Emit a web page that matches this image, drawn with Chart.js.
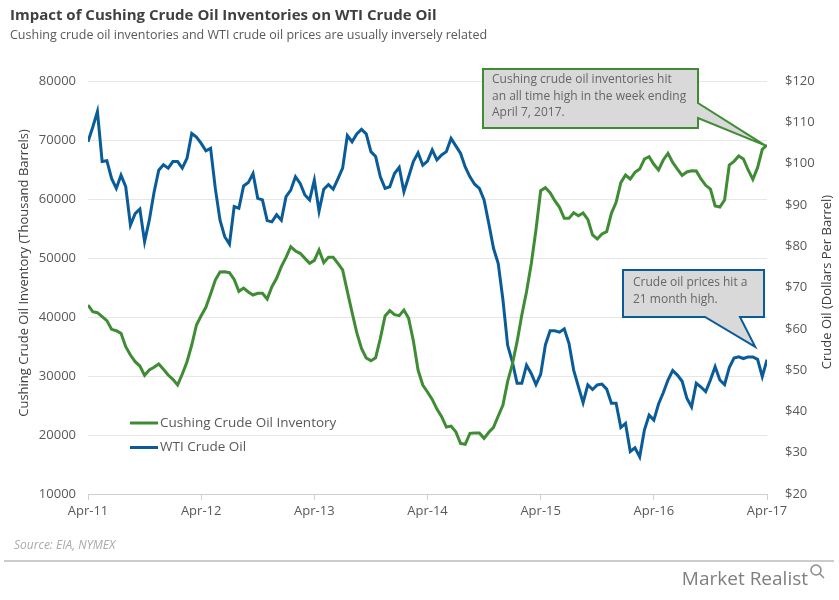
<!DOCTYPE html>
<html>
<head>
<meta charset="utf-8">
<title>Impact of Cushing Crude Oil Inventories on WTI Crude Oil</title>
<script src="https://cdn.jsdelivr.net/npm/chart.js@4.4.0/dist/chart.umd.min.js"></script>
<style>
    body { margin: 0; background: #fff; }
    #wrap { width: 839px; height: 600px; position: relative; }
</style>
</head>
<body>
<div id="wrap"><canvas id="oilChart"></canvas></div>
<script>
// Semi-monthly readings, Apr-2011 to Apr-2017 (index 0 = Apr-11, 24 = Apr-12, ...)
const xTickLabels = ['Apr-11', 'Apr-12', 'Apr-13', 'Apr-14', 'Apr-15', 'Apr-16', 'Apr-17'];

// Cushing crude oil inventory (thousand barrels)
const cushingInventory = [
    42030, 40900, 40730, 40050, 39380, 37910, 37680, 37230, 34970, 33560,
    32430, 31690, 30110, 31010, 31470, 32030, 31130, 30170, 29430, 28470,
    30340, 32430, 35250, 38640, 40220, 41640, 43900, 46270, 47630, 47680,
    47510, 46380, 44350, 44910, 44240, 43730, 44010, 44010, 43050, 45140,
    46550, 48530, 50110, 51920, 51190, 50790, 49940, 49100, 49600, 51360,
    49210, 50110, 50110, 49100, 47970, 44350, 40790, 37340, 34690, 33050,
    32600, 33100, 36380, 40170, 41070, 40390, 40220, 41180, 39770, 35990,
    31010, 28470, 27290, 26040, 24400, 23100, 21350, 21520, 20560, 18580,
    18420, 20280, 20340, 20340, 19430, 20450, 21300, 23220, 25080, 29090,
    32030, 35820, 40340, 44290, 48980, 54750, 61400, 61920, 61070, 59720,
    58590, 56720, 56720, 57680, 57170, 57630, 56550, 53900, 53220, 54070,
    54460, 57570, 59430, 62770, 64070, 63390, 64520, 65080, 66780, 67180,
    65880, 64920, 66610, 67740, 66210, 65080, 64010, 64580, 64800, 64750,
    63390, 62320, 61690, 58810, 58640, 59830, 65760, 66380, 67290, 66780,
    64920, 63330, 65310, 68420, 69150
];

// WTI crude oil price (dollars per barrel)
const wtiPrice = [
    105.3, 108.8, 112.6, 100.5, 100.7, 96.4, 94.0, 97.2, 94.4, 85.1,
    87.9, 89.0, 81.1, 86.3, 93.0, 98.4, 99.7, 98.9, 100.5, 100.5,
    98.9, 101.3, 107.3, 106.4, 104.9, 103.1, 103.7, 94.0, 86.3, 82.3,
    80.5, 89.6, 89.2, 94.6, 95.4, 97.6, 91.6, 91.2, 86.2, 85.9,
    87.6, 86.3, 92.0, 93.6, 96.8, 95.2, 92.4, 91.2, 96.0, 88.5,
    93.8, 94.9, 93.8, 96.3, 98.9, 106.8, 105.3, 107.2, 108.3, 107.2,
    102.9, 101.7, 96.8, 94.0, 94.4, 97.6, 99.1, 93.2, 96.8, 100.5,
    102.6, 99.6, 100.6, 103.3, 100.9, 102.1, 102.9, 106.1, 104.3, 102.5,
    99.2, 96.8, 95.0, 94.0, 91.2, 85.5, 79.5, 75.8, 67.0, 56.0,
    52.0, 46.8, 46.8, 51.2, 49.2, 46.5, 49.0, 56.1, 59.5, 59.5,
    59.2, 60.0, 56.5, 50.0, 46.0, 42.1, 46.4, 45.3, 46.4, 46.6,
    45.4, 42.0, 42.0, 36.1, 37.1, 30.3, 31.2, 29.0, 35.5, 39.1,
    37.9, 41.8, 44.5, 47.6, 49.9, 48.8, 47.3, 43.2, 41.1, 46.8,
    45.9, 44.8, 47.6, 50.8, 47.6, 46.5, 50.6, 52.9, 53.2, 52.8,
    53.2, 53.2, 52.6, 48.4, 52.5
];

const GREEN = '#3f8c35';
const BLUE = '#0a5c99';
const TEXT = '#595959';

Chart.defaults.font.family = "'Open Sans', sans-serif";

function toPoints(values) {
    return values.map((v, i) => ({ x: i, y: v }));
}

// draws a grey callout box with a pointer
function callout(ctx, pts, color, lines, tx, ty) {
    ctx.save();
    ctx.beginPath();
    ctx.moveTo(pts[0][0], pts[0][1]);
    for (let i = 1; i < pts.length; i++) ctx.lineTo(pts[i][0], pts[i][1]);
    ctx.closePath();
    ctx.fillStyle = '#d9d9d9';
    ctx.fill();
    ctx.lineWidth = 2;
    ctx.strokeStyle = color;
    ctx.stroke();
    ctx.fillStyle = '#666';
    ctx.font = "12px 'Open Sans'";
    ctx.textBaseline = 'middle';
    ctx.textAlign = 'left';
    lines.forEach((t, i) => ctx.fillText(t, tx, ty + i * 16.5));
    ctx.restore();
}

const decorPlugin = {
    id: 'decor',
    afterDraw(chart) {
        const ctx = chart.ctx;
        const xs = chart.scales.x, yl = chart.scales.y, yr = chart.scales.y1;
        ctx.save();

        // title + subtitle
        ctx.textBaseline = 'middle';
        ctx.textAlign = 'left';
        ctx.fillStyle = '#404040';
        ctx.font = "bold 15px 'Open Sans'";
        ctx.fillText('Impact of Cushing Crude Oil Inventories on WTI Crude Oil', 10, 16);
        ctx.fillStyle = TEXT;
        ctx.font = "12.5px 'Open Sans'";
        ctx.fillText('Cushing crude oil inventories and WTI crude oil prices are usually inversely related', 10, 35);

        // axis titles, both read bottom to top
        ctx.font = "13px 'Open Sans'";
        ctx.fillStyle = '#404040';
        ctx.textAlign = 'center';
        ctx.save();
        ctx.translate(24, 273);
        ctx.rotate(-Math.PI / 2);
        ctx.fillText('Cushing Crude Oil Inventory (Thousand Barrels)', 0, 0);
        ctx.restore();
        ctx.save();
        ctx.translate(827, 282);
        ctx.rotate(-Math.PI / 2);
        ctx.fillText('Crude Oil (Dollars Per Barrel)', 0, 0);
        ctx.restore();

        // legend inside the plot
        ctx.lineWidth = 3;
        ctx.textAlign = 'left';
        ctx.font = "13.5px 'Open Sans'";
        chart.data.datasets.forEach((ds, i) => {
            const y = 423 + i * 24.5;
            ctx.strokeStyle = ds.borderColor;
            ctx.beginPath();
            ctx.moveTo(130, y);
            ctx.lineTo(158, y);
            ctx.stroke();
            ctx.fillStyle = TEXT;
            ctx.fillText(ds.label, 160, y);
        });

        // callouts, pointed at the last readings
        const last = cushingInventory.length - 1;
        const gx = xs.getPixelForValue(last) - 2, gy = yl.getPixelForValue(cushingInventory[last - 1]) - 4;
        callout(ctx, [[483, 69], [698, 69], [698, 103], [gx, gy], [698, 118], [698, 128], [483, 128]],
            GREEN, ['Cushing crude oil inventories hit', 'an all time high in the week ending', 'April 7, 2017.'], 492, 80);
        const bx = xs.getPixelForValue(last - 2.5), by = yr.getPixelForValue(wtiPrice[last - 3]) - 10;
        callout(ctx, [[623, 270], [764, 270], [764, 317], [740, 317], [bx, by], [705, 317], [623, 317]],
            BLUE, ['Crude oil prices hit a', '21 month high.'], 633, 283);

        // footer
        ctx.font = "italic 12px 'Open Sans'";
        ctx.fillStyle = '#aaaaaa';
        ctx.fillText('Source: EIA, NYMEX', 14, 546);
        ctx.strokeStyle = '#cccccc';
        ctx.lineWidth = 2;
        ctx.beginPath();
        ctx.moveTo(4, 561);
        ctx.lineTo(834, 561);
        ctx.stroke();
        ctx.font = "19px 'Open Sans'";
        ctx.fillStyle = '#7f7f7f';
        ctx.textAlign = 'right';
        ctx.fillText('Market Realist', 808, 580);
        ctx.lineWidth = 1.5;
        ctx.strokeStyle = '#8a8a8a';
        ctx.beginPath();
        ctx.arc(816, 570, 5, 0, Math.PI * 2);
        ctx.moveTo(820, 574);
        ctx.lineTo(824, 578);
        ctx.stroke();
        ctx.restore();
    }
};

const ctx = document.getElementById('oilChart').getContext('2d');
const oilChart = new Chart(ctx, {
    type: 'line',
    data: {
        datasets: [
            {
                label: 'Cushing Crude Oil Inventory',
                data: toPoints(cushingInventory),
                borderColor: GREEN,
                backgroundColor: GREEN,
                borderWidth: 3,
                pointRadius: 0,
                tension: 0,
                yAxisID: 'y'
            },
            {
                label: 'WTI Crude Oil',
                data: toPoints(wtiPrice),
                borderColor: BLUE,
                backgroundColor: BLUE,
                borderWidth: 3,
                pointRadius: 0,
                tension: 0,
                yAxisID: 'y1'
            }
        ]
    },
    options: {
        responsive: true,
        maintainAspectRatio: false,
        animation: false,
        layout: { padding: { top: 81, bottom: 76, left: 0, right: 0 } },
        plugins: {
            legend: { display: false },
            tooltip: { enabled: false }
        },
        scales: {
            x: {
                type: 'linear',
                min: 0,
                max: 144,
                afterBuildTicks: (scale) => {
                    scale.ticks = xTickLabels.map((_, i) => ({ value: i * 24 }));
                },
                afterFit: (scale) => { scale.height = 30; },
                ticks: {
                    color: TEXT,
                    font: { size: 13 },
                    padding: 3,
                    maxRotation: 0,
                    callback: (v) => xTickLabels[v / 24]
                },
                grid: { drawOnChartArea: false, drawTicks: true, tickLength: 6, color: '#cfcfcf' },
                border: { color: '#cfcfcf', width: 1 }
            },
            y: {
                position: 'left',
                min: 10000,
                max: 80000,
                afterFit: (scale) => { scale.width = 88; },
                ticks: {
                    stepSize: 10000,
                    color: TEXT,
                    font: { size: 13 },
                    padding: 12,
                    callback: (v) => String(v)
                },
                grid: { color: '#e6e6e6', drawTicks: false },
                border: { display: false }
            },
            y1: {
                position: 'right',
                min: 20,
                max: 120,
                afterFit: (scale) => { scale.width = 72; },
                ticks: {
                    stepSize: 10,
                    color: TEXT,
                    font: { size: 13 },
                    padding: 18,
                    callback: (v) => '$' + v
                },
                grid: { drawOnChartArea: false, drawTicks: false },
                border: { display: false }
            }
        }
    },
    plugins: [decorPlugin]
});
</script>
</body>
</html>
